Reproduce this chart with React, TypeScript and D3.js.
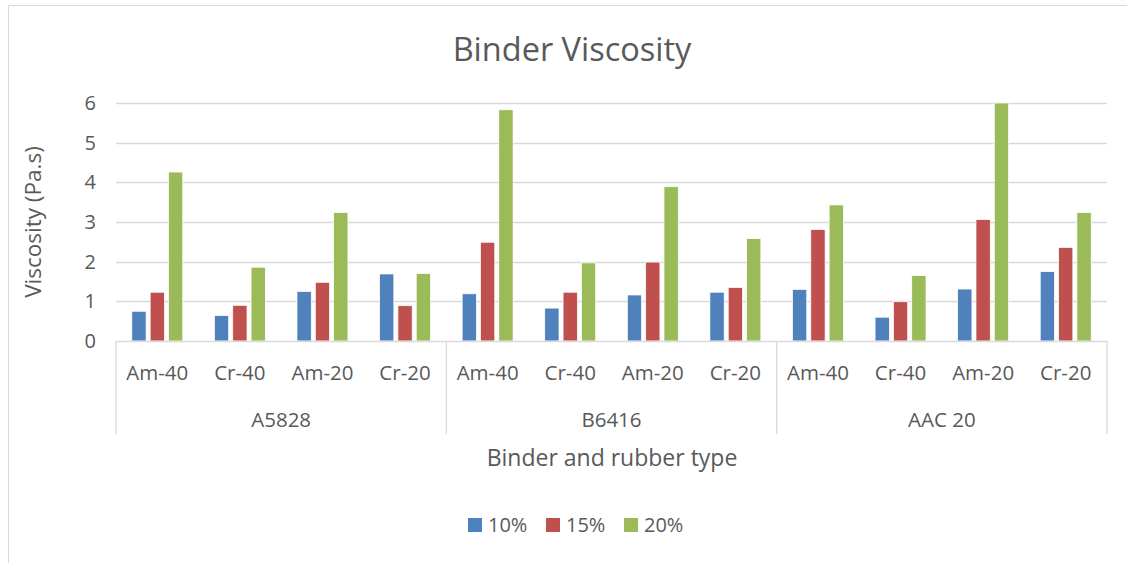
import React, { useEffect, useRef } from 'react'
import * as d3 from 'd3'

// binders and rubber types
const binders = ['A5828', 'B6416', 'AAC 20']
const rubbers = ['Am-40', 'Cr-40', 'Am-20', 'Cr-20']
const seriesNames = ['10%', '15%', '20%']
const seriesColors = ['#4F81BD', '#C0504D', '#9BBB59']
const yTicks = [0, 1, 2, 3, 4, 5, 6]

// values per binder/rubber pair, in the order of binders x rubbers
const pct10 = [0.75, 0.64, 1.25, 1.69, 1.19, 0.83, 1.16, 1.23, 1.3, 0.6, 1.31, 1.75]
const pct15 = [1.23, 0.9, 1.48, 0.89, 2.49, 1.23, 1.99, 1.35, 2.81, 0.99, 3.06, 2.36]
const pct20 = [4.26, 1.86, 3.24, 1.7, 5.83, 1.97, 3.89, 2.58, 3.43, 1.65, 6.0, 3.24]

const font = '"Open Sans", sans-serif'
const textColor = '#595959'
const gridColor = '#d9d9d9'

export default function App() {
  const ref = useRef<SVGSVGElement>(null)

  useEffect(() => {
    if (!ref.current) return
    const svg = d3.select(ref.current)
    svg.selectAll('*').remove()

    const margin = { left: 116, top: 103 }
    const W = 1127, H = 563
    const width = 1107 - margin.left
    const height = 341 - margin.top

    // chart border
    svg.append('path')
      .attr('d', `M8.5,${H} V5.5 H${W}`)
      .attr('fill', 'none')
      .attr('stroke', gridColor)

    svg.append('text')
      .attr('x', 572).attr('y', 50)
      .attr('dy', '0.35em')
      .attr('text-anchor', 'middle')
      .attr('font-family', font)
      .attr('font-size', 32.5)
      .attr('fill', textColor)
      .text('Binder Viscosity')

    const g = svg.append('g').attr('transform', `translate(${margin.left},${margin.top})`)

    const cats = binders.flatMap(b => rubbers.map(r => b + '|' + r))
    const rows = cats.map((c, i) => ({ cat: c, vals: [pct10[i], pct15[i], pct20[i]] }))

    const x0 = d3.scaleBand().domain(cats).range([0, width]).paddingInner(0.334).paddingOuter(0.167)
    const x1 = d3.scaleBand().domain(seriesNames).range([0, x0.bandwidth()]).paddingInner(0.22).paddingOuter(0.11)
    const y = d3.scaleLinear().domain([0, 6]).range([height, 0])

    // gridlines
    g.selectAll('line.grid')
      .data(yTicks.slice(1))
      .join('line')
      .attr('class', 'grid')
      .attr('x1', 0).attr('x2', width)
      .attr('y1', d => Math.round(y(d)) + 0.5).attr('y2', d => Math.round(y(d)) + 0.5)
      .attr('stroke', gridColor)
      .attr('stroke-width', 1.3)

    g.selectAll('text.ytick')
      .data(yTicks)
      .join('text')
      .attr('class', 'ytick')
      .attr('x', -20).attr('y', d => y(d))
      .attr('dy', '0.35em')
      .attr('text-anchor', 'end')
      .attr('font-family', font)
      .attr('font-size', 20)
      .attr('fill', textColor)
      .text(d => d)

    // bars
    const groups = g.selectAll('g.cat')
      .data(rows)
      .join('g')
      .attr('class', 'cat')
      .attr('transform', d => `translate(${x0(d.cat)},0)`)

    groups.selectAll('rect')
      .data(d => d.vals.map((v, i) => ({ v, i })))
      .join('rect')
      .attr('x', d => x1(seriesNames[d.i])!)
      .attr('y', d => y(d.v))
      .attr('width', x1.bandwidth())
      .attr('height', d => y(0) - y(d.v))
      .attr('fill', d => seriesColors[d.i])
      .attr('stroke', '#fff')
      .attr('stroke-width', 0.75)

    // category axis
    const step = x0.step()
    g.append('line')
      .attr('x1', 0).attr('x2', width)
      .attr('y1', height + 0.5).attr('y2', height + 0.5)
      .attr('stroke', gridColor).attr('stroke-width', 1.3)

    const groupW = step * rubbers.length
    g.selectAll('line.sep')
      .data(d3.range(binders.length + 1))
      .join('line')
      .attr('class', 'sep')
      .attr('x1', i => i * groupW).attr('x2', i => i * groupW)
      .attr('y1', height).attr('y2', height + 93)
      .attr('stroke', gridColor).attr('stroke-width', 1.3)

    g.selectAll('text.sub')
      .data(cats)
      .join('text')
      .attr('class', 'sub')
      .attr('x', c => x0(c)! + x0.bandwidth() / 2)
      .attr('y', height + 32)
      .attr('dy', '0.35em')
      .attr('text-anchor', 'middle')
      .attr('font-family', font)
      .attr('font-size', 20.5)
      .attr('fill', textColor)
      .text(c => c.split('|')[1])

    g.selectAll('text.grp')
      .data(binders)
      .join('text')
      .attr('class', 'grp')
      .attr('x', (b, i) => i * groupW + groupW / 2)
      .attr('y', height + 79)
      .attr('dy', '0.35em')
      .attr('text-anchor', 'middle')
      .attr('font-family', font)
      .attr('font-size', 20.5)
      .attr('fill', textColor)
      .text(b => b)

    // axis titles
    svg.append('text')
      .attr('x', 612).attr('y', 458)
      .attr('dy', '0.35em')
      .attr('text-anchor', 'middle')
      .attr('font-family', font)
      .attr('font-size', 23)
      .attr('fill', textColor)
      .text('Binder and rubber type')

    svg.append('text')
      .attr('transform', 'translate(33,222) rotate(-90)')
      .attr('dy', '0.35em')
      .attr('text-anchor', 'middle')
      .attr('font-family', font)
      .attr('font-size', 22.5)
      .attr('fill', textColor)
      .text('Viscosity (Pa.s)')

    // legend
    const legendX = [468, 546, 624]
    const legend = svg.selectAll('g.legend')
      .data(seriesNames)
      .join('g')
      .attr('class', 'legend')
      .attr('transform', (d, i) => `translate(${legendX[i]},525)`)
    legend.append('rect')
      .attr('x', 0).attr('y', -7)
      .attr('width', 14).attr('height', 14)
      .attr('fill', (d, i) => seriesColors[i])
    legend.append('text')
      .attr('x', 20).attr('dy', '0.35em')
      .attr('font-family', font)
      .attr('font-size', 20)
      .attr('fill', textColor)
      .text(d => d)
  }, [])

  return (
    <svg ref={ref} width={1127} height={563}
      style={{ position: 'absolute', left: 0, top: 0, background: '#fff' }} />
  )
}
